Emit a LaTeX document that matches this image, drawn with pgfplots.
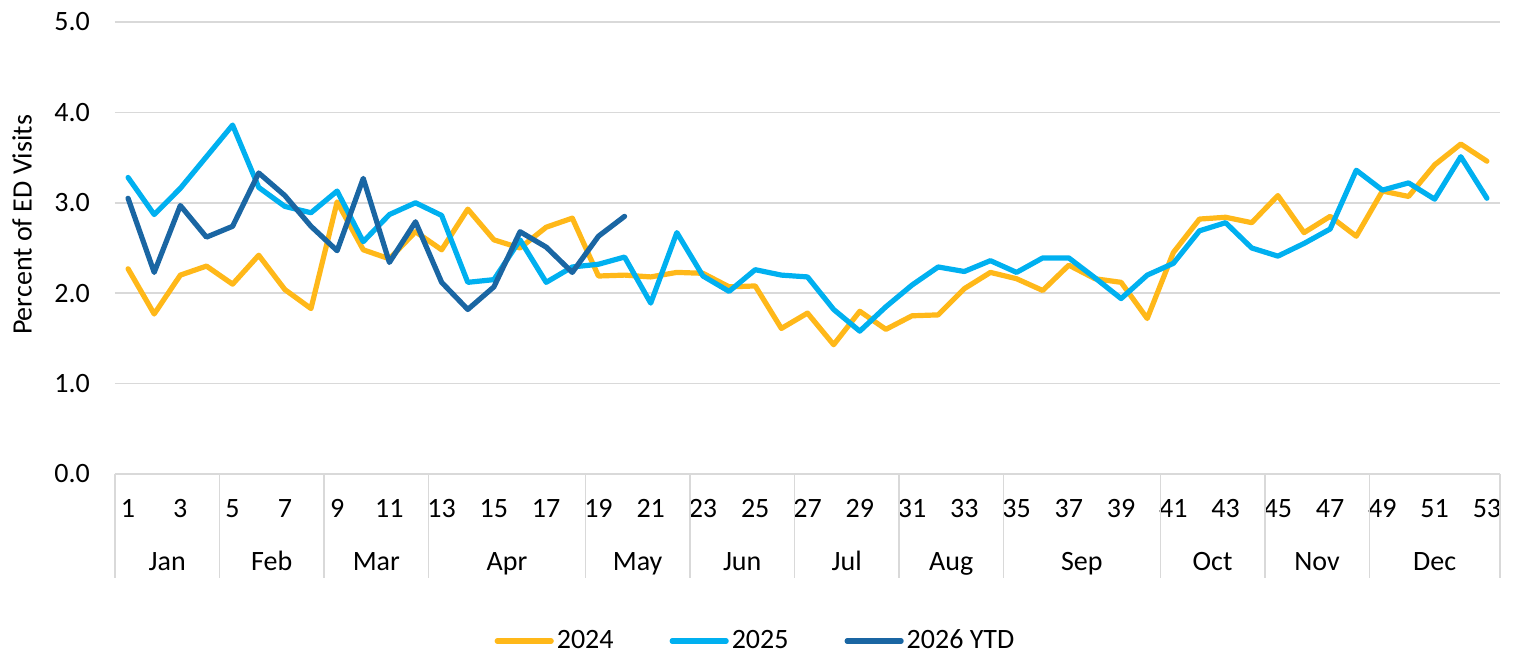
\documentclass[border=0pt]{standalone}
\usepackage{fontspec}
\setmainfont{Carlito}
\usepackage{pgfplots}
\pgfplotsset{compat=1.18}
\definecolor{c24}{HTML}{FFB819}
\definecolor{c25}{HTML}{00B0F0}
\definecolor{c26}{HTML}{1A66A3}
\definecolor{gridc}{HTML}{D9D9D9}
\pgfplotstableread{
w v
1 2.27
2 1.77
3 2.20
4 2.30
5 2.10
6 2.42
7 2.04
8 1.83
9 3.01
10 2.48
11 2.38
12 2.68
13 2.48
14 2.93
15 2.59
16 2.50
17 2.73
18 2.83
19 2.19
20 2.20
21 2.18
22 2.23
23 2.22
24 2.07
25 2.08
26 1.61
27 1.78
28 1.43
29 1.80
30 1.60
31 1.75
32 1.76
33 2.05
34 2.23
35 2.16
36 2.03
37 2.31
38 2.16
39 2.12
40 1.72
41 2.45
42 2.82
43 2.84
44 2.78
45 3.08
46 2.67
47 2.85
48 2.63
49 3.13
50 3.07
51 3.42
52 3.65
53 3.46
}\ydata
\pgfplotstableread{
w v
1 3.28
2 2.87
3 3.16
4 3.51
5 3.86
6 3.17
7 2.96
8 2.89
9 3.13
10 2.57
11 2.87
12 3.00
13 2.86
14 2.12
15 2.15
16 2.59
17 2.12
18 2.29
19 2.32
20 2.40
21 1.89
22 2.67
23 2.19
24 2.02
25 2.26
26 2.20
27 2.18
28 1.82
29 1.58
30 1.85
31 2.09
32 2.29
33 2.24
34 2.36
35 2.23
36 2.39
37 2.39
38 2.17
39 1.94
40 2.20
41 2.33
42 2.69
43 2.78
44 2.50
45 2.41
46 2.55
47 2.71
48 3.36
49 3.14
50 3.22
51 3.04
52 3.51
53 3.05
}\zdata
\pgfplotstableread{
w v
1 3.05
2 2.23
3 2.97
4 2.62
5 2.74
6 3.33
7 3.08
8 2.74
9 2.47
10 3.27
11 2.34
12 2.79
13 2.12
14 1.82
15 2.07
16 2.68
17 2.51
18 2.23
19 2.63
20 2.85
}\xdata
\begin{document}
\begin{tikzpicture}[font=\fontsize{14}{17}\selectfont]
\useasboundingbox (-57.5pt,-91pt) rectangle (699.5pt,237pt);
\begin{axis}[
  at={(0,0)}, anchor=south west,
  scale only axis, width=692.5pt, height=226pt,
  xmin=0.5, xmax=53.5, ymin=0, ymax=5,
  clip=false,
  axis x line*=bottom, axis y line*=left,
  x axis line style={draw=gridc, line width=0.75pt},
  y axis line style={draw=none},
  major tick length=0pt,
  xtick={1,3,...,53},
  ytick={0,1,2,3,4,5},
  ymajorgrids, major grid style={draw=gridc, line width=0.75pt},
  tick label style={font=\fontsize{14}{17}\selectfont},
  yticklabel style={xshift=-9pt, /pgf/number format/.cd, fixed, fixed zerofill, precision=1, assume math mode=true},
  xticklabel style={anchor=base, yshift=-22pt, /pgf/number format/assume math mode=true},
  extra x ticks={0.5,4.5,8.5,12.5,18.5,22.5,26.5,30.5,34.5,40.5,44.5,48.5,53.5},
  extra x tick labels={},
  extra x tick style={grid=none, tick align=outside, major tick length=52pt,
     xtick style={draw=gridc, line width=0.75pt}},
  ylabel={Percent of ED Visits},
  ylabel style={font=\fontsize{14}{17}\selectfont, at={(axis description cs:-0.0671,0.551)}, anchor=center},
  legend columns=3,
  legend style={at={(0.4628,-0.3695)}, anchor=center, draw=none, fill=none,
     font=\fontsize{14}{17}\selectfont,
     nodes={inner xsep=1.5pt},
     /tikz/every even column/.append style={column sep=26.5pt}},
  legend image code/.code={\draw[#1, line width=2.6pt] (0pt,0pt) -- (27pt,0pt);},
]
\addplot[c24, line width=2.6pt, line join=round, line cap=round, mark=none] table[x=w,y=v] {\ydata};
\addlegendentry{2024}
\addplot[c25, line width=2.6pt, line join=round, line cap=round, mark=none] table[x=w,y=v] {\zdata};
\addlegendentry{2025}
\addplot[c26, line width=2.6pt, line join=round, line cap=round, mark=none] table[x=w,y=v] {\xdata};
\addlegendentry{2026 YTD}
\node[anchor=base, yshift=-48.5pt] at (axis cs:2.5,0) {Jan};
\node[anchor=base, yshift=-48.5pt] at (axis cs:6.5,0) {Feb};
\node[anchor=base, yshift=-48.5pt] at (axis cs:10.5,0) {Mar};
\node[anchor=base, yshift=-48.5pt] at (axis cs:15.5,0) {Apr};
\node[anchor=base, yshift=-48.5pt] at (axis cs:20.5,0) {May};
\node[anchor=base, yshift=-48.5pt] at (axis cs:24.5,0) {Jun};
\node[anchor=base, yshift=-48.5pt] at (axis cs:28.5,0) {Jul};
\node[anchor=base, yshift=-48.5pt] at (axis cs:32.5,0) {Aug};
\node[anchor=base, yshift=-48.5pt] at (axis cs:37.5,0) {Sep};
\node[anchor=base, yshift=-48.5pt] at (axis cs:42.5,0) {Oct};
\node[anchor=base, yshift=-48.5pt] at (axis cs:46.5,0) {Nov};
\node[anchor=base, yshift=-48.5pt] at (axis cs:51,0) {Dec};
\end{axis}
\end{tikzpicture}
\end{document}
